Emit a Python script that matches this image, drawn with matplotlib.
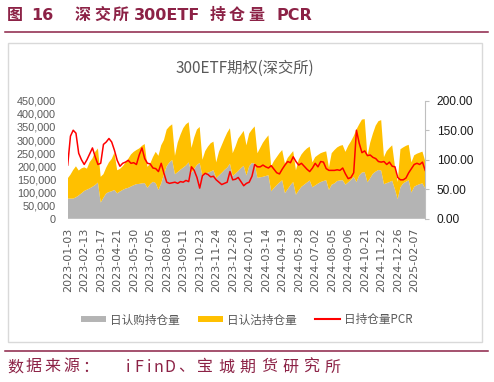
import numpy as np
import matplotlib
matplotlib.use("Agg")
import matplotlib.pyplot as plt
from matplotlib.lines import Line2D
from matplotlib.patches import Rectangle

plt.rcParams['font.family'] = ['Noto Sans CJK SC', 'DejaVu Sans']

# ---------------- data (sampled every 4 trading days) ----------------
tick_dates = ['2023-01-03', '2023-02-13', '2023-03-17', '2023-04-21', '2023-05-30',
              '2023-07-05', '2023-08-08', '2023-09-11', '2023-10-23', '2023-11-24',
              '2023-12-28', '2024-02-01', '2024-03-14', '2024-04-19', '2024-05-28',
              '2024-07-02', '2024-08-05', '2024-09-06', '2024-10-21', '2024-11-22',
              '2024-12-26', '2025-02-07']

# call open interest (thousand contracts)
call_oi_k = [77, 77, 77, 82, 89, 97, 106, 111, 116, 122,
             129, 138, 62, 80, 97, 102, 105, 110, 97, 104,
             110, 115, 118, 123, 128, 132, 133, 135, 136, 118,
             132, 141, 136, 110, 135, 170, 200, 215, 224, 170,
             178, 187, 195, 203, 215, 175, 190, 205, 213, 163,
             170, 176, 180, 185, 155, 165, 175, 186, 195, 210,
             163, 172, 182, 193, 202, 165, 200, 213, 210, 156,
             158, 160, 163, 166, 105, 117, 128, 138, 147, 98,
             113, 128, 140, 92, 108, 122, 130, 138, 146, 120,
             127, 134, 140, 144, 147, 110, 130, 135, 144, 146,
             147, 130, 139, 148, 160, 140, 165, 176, 178, 139,
             155, 172, 180, 186, 184, 132, 136, 140, 145, 112,
             75, 120, 135, 141, 147, 100, 122, 128, 132, 135,
             116]

# put open interest (thousand contracts)
put_oi_k = [77, 91, 109, 118, 95, 95, 90, 80, 100, 108,
            126, 130, 98, 90, 98, 113, 123, 142, 88, 86,
            90, 98, 110, 122, 127, 130, 135, 143, 149, 80,
            78, 94, 119, 130, 145, 130, 140, 137, 136, 70,
            112, 133, 150, 157, 153, 95, 120, 135, 137, 62,
            88, 99, 108, 109, 60, 90, 105, 119, 133, 135,
            87, 103, 123, 127, 133, 115, 125, 127, 142, 94,
            112, 130, 142, 152, 95, 103, 107, 112, 115, 112,
            119, 117, 118, 93, 117, 123, 128, 130, 129, 95,
            108, 109, 110, 110, 110, 85, 120, 127, 128, 132,
            134, 125, 139, 147, 155, 200, 195, 202, 202, 101,
            135, 153, 175, 186, 192, 103, 122, 130, 135, 88,
            65, 145, 137, 137, 135, 115, 120, 120, 120, 121,
            104]

# daily open-interest PCR
pcr = [91, 140, 150, 145, 111, 100, 92, 100, 110, 120,
       105, 92, 94, 126, 130, 136, 130, 116, 99, 89,
       94, 96, 99, 94, 95, 92, 108, 120, 102, 94,
       93, 86, 85, 80, 94, 77, 62, 60, 61, 62,
       60, 63, 62, 65, 63, 88, 82, 70, 52, 73,
       77, 75, 71, 72, 66, 62, 58, 60, 62, 80,
       66, 67, 70, 63, 56, 60, 62, 72, 92, 88,
       88, 91, 88, 86, 90, 84, 78, 76, 84, 91,
       97, 95, 105, 97, 91, 94, 89, 84, 80, 86,
       94, 88, 97, 96, 85, 82, 82, 82, 83, 82,
       86, 76, 68, 70, 78, 150, 128, 112, 115, 107,
       108, 104, 102, 97, 96, 97, 92, 96, 89, 88,
       70, 66, 66, 69, 78, 85, 92, 94, 92, 96,
       82]

series_names = ['日认购持仓量', '日认沽持仓量', '日持仓量PCR']
samples_per_tick = 6

# ---------------- figure ----------------
W, H = 494, 382
fig = plt.figure(figsize=(W / 100, H / 100), dpi=100)


def fx(px):
    return px / W


def fy(py):
    return 1 - py / H


maroon = '#8C2246'
grey_txt = '#595959'
c_call = '#B4B4B4'
c_put = '#FFC000'
c_pcr = '#FF0000'

# title pieces (CJK glyphs and Latin runs placed like the reference)
title_cjk = [('图', 7), ('深', 75), ('交', 94), ('所', 113),
             ('持', 210), ('仓', 229), ('量', 248)]
title_lat = [('16', 31), ('300ETF', 134), ('PCR', 276)]
for s, px in title_cjk:
    fig.text(fx(px), fy(15), s, ha='left', va='center', fontsize=11.5,
             fontweight='bold', color=maroon)
for s, px in title_lat:
    fig.text(fx(px), fy(15.5), s, ha='left', va='center', fontsize=11.5,
             fontweight='bold', color=maroon, family='DejaVu Sans')

fig.add_artist(Line2D([fx(5), fx(488)], [fy(32.3), fy(32.3)], color=maroon, lw=1.1))
fig.add_artist(Line2D([fx(5), fx(488)], [fy(351), fy(351)], color=maroon, lw=1.1))
fig.add_artist(Rectangle((fx(8), fy(342)), fx(482) - fx(8), fy(42.7) - fy(342),
                         fill=False, edgecolor='#D9D9D9', lw=1.0))

# source text, spaced like the reference (full-width CJK, half-width Latin cells)
src_left = [('数', 7), ('据', 25.7), ('来', 44.4), ('源', 63.1), ('：', 81.8),
            ('、', 178), ('宝', 197), ('城', 218.3), ('期', 239.6),
            ('货', 260.9), ('研', 282.2), ('究', 303.5), ('所', 324.8)]
for s, px in src_left:
    fig.text(fx(px), fy(367), s, ha='left', va='center', fontsize=11.5, color=maroon)
src_latin = [('i', 128), ('F', 138.5), ('i', 148.5), ('n', 158.5), ('D', 169.5)]
for s, px in src_latin:
    fig.text(fx(px), fy(367), s, ha='center', va='center', fontsize=11.5, color=maroon)

fig.text(fx(245), fy(68), '300ETF期权(深交所)', ha='center', va='center',
         fontsize=11, color=grey_txt)

# ---------------- axes ----------------
call = np.array(call_oi_k) * 1000
put = np.array(put_oi_k) * 1000
x = np.arange(len(call))

ax = fig.add_axes([fx(67.7), fy(218.8), fx(425.2) - fx(67.7), fy(100.7) - fy(218.8)])
ax.stackplot(x, call, put, colors=[c_call, c_put], edgecolor='none', linewidth=0)
ax.set_xlim(0, len(x) - 1)
ax.set_ylim(0, 450000)
yt = np.arange(0, 450001, 50000)
ax.set_yticks(yt)
ax.set_yticklabels([f'{v:,.0f}' for v in yt], fontsize=7.8, color=grey_txt,
                   family='Liberation Sans')
ax.tick_params(axis='y', length=0, pad=8.4)
ax.set_xticks(np.arange(len(tick_dates)) * samples_per_tick)
ax.set_xticklabels(tick_dates, rotation=90, fontsize=8, color=grey_txt,
                   family='DejaVu Sans')
ax.tick_params(axis='x', length=0, pad=6.5)
for sp in ax.spines.values():
    sp.set_visible(False)

ax2 = ax.twinx()
ax2.plot(x, pcr, color=c_pcr, lw=1.1)
ax2.set_ylim(0, 200)
rt = np.arange(0, 201, 50)
ax2.set_yticks(rt)
ax2.set_yticklabels([f'{v:.2f}' for v in rt], fontsize=8.6, color='#1A1A1A',
                    family='Liberation Sans')
ax2.tick_params(axis='y', length=2.8, width=0.8, color='#BFBFBF', pad=5.5)
for name, sp in ax2.spines.items():
    sp.set_visible(name == 'right')
ax2.spines['right'].set_color('#BFBFBF')
ax2.spines['right'].set_linewidth(0.8)

# legend
handles = [Line2D([], [], color=c_call, lw=4.3, solid_capstyle='butt'),
           Line2D([], [], color=c_put, lw=4.3, solid_capstyle='butt'),
           Line2D([], [], color=c_pcr, lw=1.5)]
fig.legend(handles, series_names, loc='center', bbox_to_anchor=(fx(247), fy(320)),
           ncol=3, frameon=False, fontsize=8.4, handlelength=2.1, handletextpad=0.35,
           columnspacing=1.6, labelcolor=grey_txt)

fig.savefig('out.png', dpi=100)
